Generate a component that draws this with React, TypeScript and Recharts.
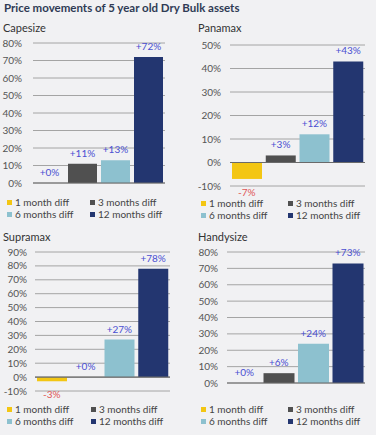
import React from 'react';
import {
  BarChart,
  Bar,
  XAxis,
  YAxis,
  CartesianGrid,
  Cell,
  ReferenceLine,
  ReferenceDot,
} from 'recharts';

const SERIES = ['1 month diff', '3 months diff', '6 months diff', '12 months diff'];
const COLORS = ['#f3c613', '#505050', '#8dc1cf', '#233670'];

const CAPESIZE = [0, 11, 13, 72];
const PANAMAX = [-7, 3, 12, 43];
const SUPRAMAX = [-3, 0, 27, 78];
const HANDYSIZE = [0, 6, 24, 73];

const CAPESIZE_TICKS = [0, 10, 20, 30, 40, 50, 60, 70, 80];
const PANAMAX_TICKS = [-10, 0, 10, 20, 30, 40, 50];
const SUPRAMAX_TICKS = [-10, 0, 10, 20, 30, 40, 50, 60, 70, 80, 90];
const HANDYSIZE_TICKS = [0, 10, 20, 30, 40, 50, 60, 70, 80];

const FONT = 'Lato, "Noto Sans", sans-serif';

type PanelProps = {
  title: string;
  values: number[];
  ticks: number[];
  left: number;
  plotTop: number;
  plotBottom: number;
  width: number;
  yWidth: number;
  tickMargin: number;
  titleX: number;
  titleY: number;
  legendX: number;
  legendX2: number;
  legendY: number;
};

// value label drawn at the data point (top of a positive bar, bottom of a negative one)
function valueLabel(value: number) {
  return (props: any) => {
    const { cx, cy } = props;
    const neg = value < 0;
    return (
      <text
        x={cx}
        y={neg ? cy + 13 : cy - 11}
        textAnchor="middle"
        dominantBaseline="central"
        fontSize={10}
        fontFamily={FONT}
        fill={neg ? '#e05656' : '#4a4fd2'}
      >
        {neg ? `${value}%` : `+${value}%`}
      </text>
    );
  };
}

function Panel(p: PanelProps) {
  const data = SERIES.map((name, i) => ({ name, value: p.values[i] }));
  const min = p.ticks[0];
  const max = p.ticks[p.ticks.length - 1];
  const top = p.plotTop - 8;
  const height = p.plotBottom - p.plotTop + 30;
  return (
    <>
      <div
        style={{
          position: 'absolute', left: p.titleX, top: p.titleY - 7, fontSize: 11,
          color: '#333', fontFamily: FONT, lineHeight: '14px',
        }}
      >
        {p.title}
      </div>
      <div style={{ position: 'absolute', left: p.left, top }}>
        <BarChart
          width={p.width}
          height={height}
          data={data}
          margin={{ top: 8, right: 5, left: 0, bottom: 22 }}
          barCategoryGap={2}
        >
          <CartesianGrid horizontal vertical={false} stroke="#a4a4a4" strokeWidth={1} />
          <XAxis dataKey="name" hide />
          <YAxis
            width={p.yWidth}
            domain={[min, max]}
            ticks={p.ticks}
            interval={0}
            axisLine={false}
            tickLine={false}
            tickMargin={p.tickMargin}
            tickFormatter={(v: number) => `${v}%`}
            tick={{ fontSize: 10, fill: '#555', fontFamily: FONT }}
          />
          <ReferenceLine y={0} stroke="#6a6a6a" strokeWidth={1.2} />
          <Bar dataKey="value" isAnimationActive={false}>
            {data.map((d, i) => (
              <Cell key={d.name} fill={COLORS[i]} />
            ))}
          </Bar>
          {data.map((d) => (
            <ReferenceDot
              key={`lbl-${d.name}`}
              x={d.name}
              y={d.value}
              r={0}
              ifOverflow="visible"
              shape={valueLabel(d.value)}
            />
          ))}
        </BarChart>
      </div>
      {SERIES.map((s, i) => (
        <div
          key={s}
          style={{
            position: 'absolute',
            left: i % 2 === 0 ? p.legendX : p.legendX2,
            top: p.legendY + Math.floor(i / 2) * 12 - 6,
            display: 'flex', alignItems: 'center', gap: 3,
            fontSize: 10, color: '#444', fontFamily: FONT, lineHeight: '12px',
            whiteSpace: 'nowrap',
          }}
        >
          <span style={{ width: 5, height: 5, background: COLORS[i], display: 'inline-block' }} />
          {s}
        </div>
      ))}
    </>
  );
}

export default function App() {
  return (
    <div
      style={{
        position: 'absolute', left: 0, top: 0, width: 376, height: 435,
        background: '#f1f1f3', overflow: 'hidden', fontFamily: FONT,
      }}
    >
      <div
        style={{
          position: 'absolute', left: 4, top: 1, fontSize: 11.5, fontWeight: 700,
          color: '#2f3b55', lineHeight: '14px', whiteSpace: 'nowrap',
        }}
      >
        Price movements of 5 year old Dry Bulk assets
      </div>
      <Panel
        title="Capesize" values={CAPESIZE} ticks={CAPESIZE_TICKS}
        left={0} plotTop={43} plotBottom={183} width={170} yWidth={33} tickMargin={5}
        titleX={3} titleY={28} legendX={7} legendX2={90} legendY={202}
      />
      <Panel
        title="Panamax" values={PANAMAX} ticks={PANAMAX_TICKS}
        left={188} plotTop={45} plotBottom={186} width={182} yWidth={42} tickMargin={3}
        titleX={198} titleY={28} legendX={201} legendX2={288} legendY={203}
      />
      <Panel
        title="Supramax" values={SUPRAMAX} ticks={SUPRAMAX_TICKS}
        left={0} plotTop={252} plotBottom={391} width={175} yWidth={35} tickMargin={2}
        titleX={3} titleY={237} legendX={7} legendX2={91} legendY={409}
      />
      <Panel
        title="Handysize" values={HANDYSIZE} ticks={HANDYSIZE_TICKS}
        left={188} plotTop={252} plotBottom={383} width={182} yWidth={39} tickMargin={3}
        titleX={198} titleY={237} legendX={201} legendX2={288} legendY={409}
      />
    </div>
  );
}
